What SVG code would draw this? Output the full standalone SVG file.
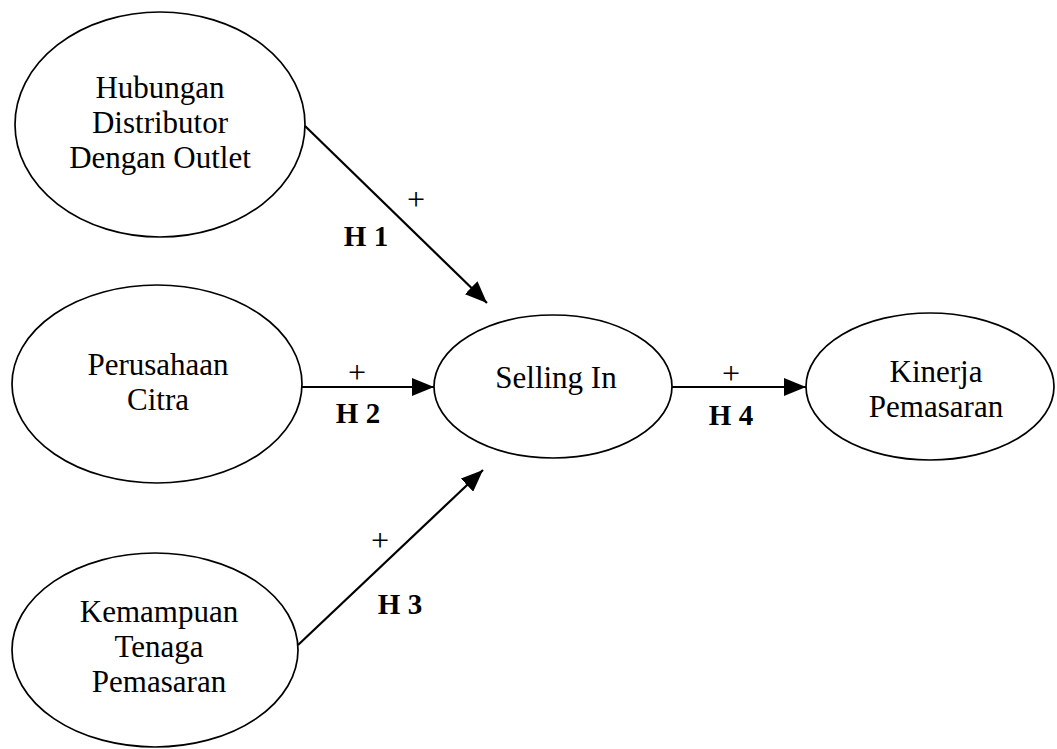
<svg xmlns="http://www.w3.org/2000/svg" width="1057" height="749" viewBox="0 0 1057 749">
  <style>
    .node { fill: #ffffff; stroke: #000000; stroke-width: 1.7; }
    .label { font-family: "Liberation Serif", "Times New Roman", serif; font-size: 31px; fill: #000000; text-anchor: middle; }
    .edge { stroke: #000000; stroke-width: 2.2; fill: none; marker-end: url(#arrow); }
    .sign { font-family: "Liberation Serif", "Times New Roman", serif; font-size: 32px; fill: #000000; text-anchor: middle; }
    .hyp { font-family: "Liberation Serif", "Times New Roman", serif; font-size: 29px; font-weight: bold; fill: #000000; text-anchor: middle; }
  </style>
  <defs>
    <marker id="arrow" markerUnits="userSpaceOnUse" markerWidth="22" markerHeight="18" refX="22" refY="9" orient="auto">
      <path d="M0,0 L22,9 L0,18 z" fill="#000000"/>
    </marker>
  </defs>
  <rect width="1057" height="749" fill="#ffffff"/>

  <g id="hubungan">
    <ellipse class="node" cx="160" cy="124.5" rx="145" ry="112.5"/>
    <text class="label" x="160" y="98">Hubungan</text>
    <text class="label" x="160" y="133">Distributor</text>
    <text class="label" x="160" y="168">Dengan Outlet</text>
  </g>

  <g id="citra">
    <ellipse class="node" cx="157" cy="384" rx="145" ry="99"/>
    <text class="label" x="158" y="375">Perusahaan</text>
    <text class="label" x="158" y="410">Citra</text>
  </g>

  <g id="kemampuan">
    <ellipse class="node" cx="155" cy="650" rx="143" ry="97"/>
    <text class="label" x="159" y="622">Kemampuan</text>
    <text class="label" x="159" y="657">Tenaga</text>
    <text class="label" x="159" y="692">Pemasaran</text>
  </g>

  <g id="selling-in">
    <ellipse class="node" cx="553" cy="386.5" rx="119" ry="71.5"/>
    <text class="label" x="556" y="388">Selling In</text>
  </g>

  <g id="kinerja">
    <ellipse class="node" cx="930" cy="386.5" rx="124" ry="73.5"/>
    <text class="label" x="936" y="382">Kinerja</text>
    <text class="label" x="936" y="417">Pemasaran</text>
  </g>

  <g id="connectors">
    <line class="edge" x1="305" y1="126" x2="487" y2="303"/>
    <line class="edge" x1="302" y1="387" x2="434" y2="387"/>
    <line class="edge" x1="298" y1="645" x2="483" y2="470"/>
    <line class="edge" x1="672" y1="387" x2="806" y2="387"/>

    <text class="sign" x="416" y="210">+</text>
    <text class="hyp" x="366" y="246">H 1</text>
    <text class="sign" x="357" y="383">+</text>
    <text class="hyp" x="358" y="423">H 2</text>
    <text class="sign" x="380" y="551">+</text>
    <text class="hyp" x="400" y="614">H 3</text>
    <text class="sign" x="731" y="384">+</text>
    <text class="hyp" x="731" y="425">H 4</text>
  </g>
</svg>
